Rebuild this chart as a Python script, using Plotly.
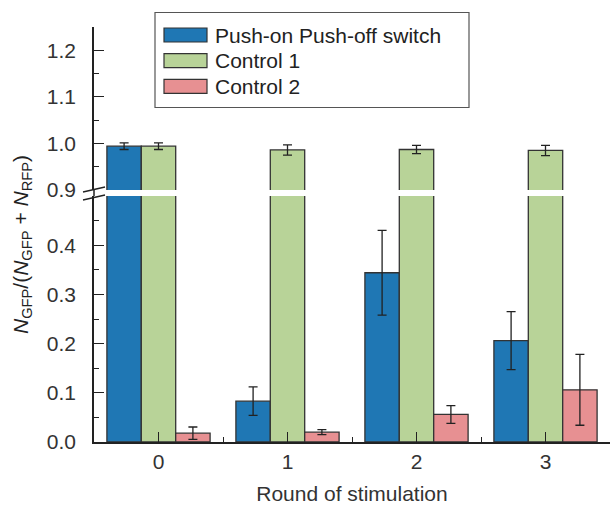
import plotly.graph_objects as go

# ---------------- data ----------------
rounds = [0, 1, 2, 3]
round_labels = ["0", "1", "2", "3"]
series_names = ["Push-on Push-off switch", "Control 1", "Control 2"]
switch_vals = [0.994, 0.083, 0.344, 0.206]
switch_err = [0.007, 0.029, 0.086, 0.059]
control1_vals = [0.994, 0.986, 0.987, 0.985]
control1_err = [0.007, 0.011, 0.009, 0.011]
control2_vals = [0.018, 0.020, 0.056, 0.106]
control2_err = [0.0125, 0.005, 0.018, 0.072]
lower_ticks = [0.0, 0.1, 0.2, 0.3, 0.4]
upper_ticks = [0.9, 1.0, 1.1, 1.2]

colors = ["#1F77B4", "#B8D398", "#E79092"]
series_vals = [switch_vals, control1_vals, control2_vals]
series_errs = [switch_err, control1_err, control2_err]

FONT = "Liberation Sans, Arial, Helvetica, sans-serif"
INK = "#222222"
FS = 21

# plot area in pixels (for decorations)
W, H = 611, 506
L, R, T, B = 94, 1, 27, 64
PW, PH = W - L - R, H - T - B


def px(x):
    return (x - L) / PW


def py(y):
    return (H - B - y) / PH


lower_top = py(196)
upper_bottom = py(190)

fig = go.Figure()
for axis in ["y", "y2"]:
    for name, vals, errs, col in zip(series_names, series_vals, series_errs, colors):
        fig.add_trace(go.Bar(
            x=rounds, y=vals, name=name, yaxis=axis, xaxis="x",
            marker=dict(color=col, line=dict(color="#333333", width=1.3)),
            error_y=dict(type="data", array=errs, visible=True, color=INK,
                         thickness=1.3, width=4.5),
            showlegend=False,
        ))

common_y = dict(
    showline=True, linecolor=INK, linewidth=1.5, ticks="inside", ticklen=10,
    tickwidth=1.3, tickcolor=INK, showgrid=False, zeroline=False,
    tickfont=dict(family=FONT, size=FS, color="#333333"), ticklabelstandoff=12,
    anchor="x",
)

fig.update_layout(
    width=W, height=H, margin=dict(l=L, r=R, t=T, b=B),
    paper_bgcolor="white", plot_bgcolor="white",
    barmode="group", bargap=0.2, bargroupgap=0,
    font=dict(family=FONT, size=FS, color="#333333"),
    xaxis=dict(
        range=[-0.5, 3.5], tickvals=rounds, ticktext=round_labels,
        showline=True, linecolor=INK, linewidth=1.5, ticks="inside", ticklen=10,
        tickwidth=1.3, tickcolor=INK, showgrid=False, zeroline=False,
        tickfont=dict(family=FONT, size=FS, color="#333333"),
        minor=dict(tickvals=[-0.5, 0.5, 1.5, 2.5, 3.5], ticks="inside", ticklen=5,
                   tickwidth=1.3, tickcolor=INK),
        title=dict(text="Round of stimulation", standoff=14,
                   font=dict(family=FONT, size=FS, color="#333333")),
        anchor="y",
    ),
    yaxis=dict(domain=[0, lower_top], range=[0, 0.5], tickvals=lower_ticks,
               ticktext=["%.1f" % v for v in lower_ticks],
               minor=dict(dtick=0.05, tick0=0, ticks="inside", ticklen=5,
                          tickwidth=1.3, tickcolor=INK),
               **common_y),
    yaxis2=dict(domain=[upper_bottom, 1], range=[0.9, 1.25], tickvals=upper_ticks,
                ticktext=["%.1f" % v for v in upper_ticks],
                minor=dict(dtick=0.05, tick0=0.9, ticks="inside", ticklen=5,
                           tickwidth=1.3, tickcolor=INK),
                **common_y),
)

shapes = []
annotations = []
# axis continuation through the break
shapes.append(dict(type="line", xref="paper", yref="paper", x0=0, x1=0,
                   y0=lower_top, y1=upper_bottom, line=dict(color=INK, width=1.5)))
# break marks
for (x0, y0, x1, y1) in [(83, 192, 105, 187), (83, 200, 105, 195)]:
    shapes.append(dict(type="line", xref="paper", yref="paper",
                       x0=px(x0), y0=py(y0), x1=px(x1), y1=py(y1),
                       line=dict(color=INK, width=1.3)))

# legend box
shapes.append(dict(type="rect", xref="paper", yref="paper",
                   x0=px(155), x1=px(469), y0=py(107.5), y1=py(12.5),
                   line=dict(color="#555555", width=1.2), fillcolor="white", layer="above"))
for i, (name, col) in enumerate(zip(series_names, colors)):
    cy = 35 + i * 25.7
    shapes.append(dict(type="rect", xref="paper", yref="paper",
                       x0=px(164), x1=px(207), y0=py(cy + 7), y1=py(cy - 7),
                       line=dict(color="#333333", width=1.2), fillcolor=col, layer="above"))
    annotations.append(dict(xref="paper", yref="paper", x=px(213), y=py(cy),
                            xanchor="left", yanchor="middle", showarrow=False,
                            text=name, font=dict(family=FONT, size=FS, color="#222222")))

# y-axis title
annotations.append(dict(
    xref="paper", yref="paper", x=px(22), y=py(245), xanchor="center", yanchor="middle",
    textangle=-90, showarrow=False,
    text="<i>N</i><sub>GFP</sub>/(<i>N</i><sub>GFP</sub> + <i>N</i><sub>RFP</sub>)",
    font=dict(family=FONT, size=FS, color="#222222"),
))

fig.update_layout(shapes=shapes, annotations=annotations)
fig.write_html("out.html", config={"displayModeBar": False},
               post_script="document.body.style.margin='0px';")
